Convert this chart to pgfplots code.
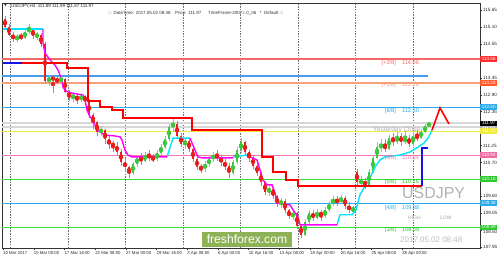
\documentclass[border=0pt]{standalone}
\usepackage{fontspec}
\setmainfont{Liberation Sans}
\newfontfamily\djv{DejaVu Sans}
\usepackage{pgfplots}
\usepackage{pgfplotstable}
\pgfplotsset{compat=1.18}
\newcommand\fs[1]{\fontsize{#1}{#1}\selectfont}
\definecolor{candleup}{RGB}{60,200,60}
\definecolor{candledn}{RGB}{235,30,30}
\definecolor{lred}{RGB}{242,105,105}
\definecolor{bred}{RGB}{255,45,45}
\definecolor{lsal}{RGB}{245,160,120}
\definecolor{bsal}{RGB}{255,90,40}
\definecolor{tblue}{RGB}{70,155,235}
\definecolor{mblue}{RGB}{40,170,235}
\definecolor{lgrey}{RGB}{215,215,215}
\definecolor{lyel}{RGB}{240,235,60}
\definecolor{lpink}{RGB}{240,120,180}
\definecolor{lgreen}{RGB}{50,225,50}
\definecolor{cmag}{RGB}{255,0,255}
\definecolor{ccyan}{RGB}{0,230,255}
\definecolor{dblue}{RGB}{20,20,230}
\definecolor{ffx}{RGB}{141,178,85}

\pgfplotstableread{
x o h l c
17 114.70 114.88 114.60 114.80
25 114.75 115.02 114.70 114.95
29 114.95 115.20 114.88 115.05
37 114.80 114.95 114.68 114.85
49 113.35 113.55 113.20 113.45
61 113.35 113.52 113.28 113.40
73 112.80 113.00 112.68 112.85
81 112.75 112.95 112.68 112.85
101 111.70 111.90 111.55 111.75
133 110.35 110.72 110.30 110.65
137 110.65 110.95 110.55 110.85
145 110.75 111.05 110.70 110.95
157 110.80 111.10 110.75 111.00
161 111.00 111.30 110.95 111.20
165 111.20 111.55 111.15 111.45
169 111.45 111.95 111.40 111.85
173 111.85 112.15 111.70 111.95
185 111.30 111.50 111.15 111.40
205 110.50 110.75 110.40 110.65
209 110.65 110.90 110.55 110.80
213 110.80 111.05 110.70 110.95
233 110.35 110.78 110.30 110.70
237 110.70 111.20 110.65 111.10
241 111.10 111.50 111.00 111.35
269 109.75 109.95 109.62 109.85
281 109.35 109.55 109.22 109.45
293 108.95 109.15 108.82 109.05
305 108.35 108.85 108.30 108.75
309 108.75 109.15 108.70 109.05
317 108.90 109.20 108.85 109.10
325 108.95 109.25 108.90 109.15
329 109.15 109.45 109.10 109.35
333 109.35 109.60 109.30 109.50
341 109.40 109.65 109.35 109.55
353 109.15 109.30 109.05 109.20
361 110.05 110.25 109.90 110.10
369 109.95 110.50 109.90 110.40
373 110.40 110.95 110.35 110.85
377 110.85 111.35 110.80 111.20
381 111.20 111.45 111.05 111.25
389 111.15 111.60 111.10 111.50
397 111.35 111.70 111.30 111.55
405 111.35 111.72 111.30 111.50
413 111.30 111.70 111.25 111.55
421 111.50 111.80 111.45 111.70
425 111.70 111.95 111.65 111.88
429 111.88 111.99 111.87 111.97
}\upc

\pgfplotstableread{
x o h l c
5 115.35 115.45 115.05 115.10
9 115.10 115.20 114.80 114.85
13 114.85 114.95 114.62 114.70
21 114.80 114.90 114.68 114.75
33 115.05 115.08 114.72 114.80
41 114.85 114.90 114.45 114.55
45 114.55 114.60 113.25 113.35
53 113.45 113.55 112.95 113.40
57 113.40 113.48 113.25 113.35
65 113.40 113.45 112.95 113.00
69 113.00 113.05 112.70 112.80
77 112.85 112.95 112.60 112.75
85 112.85 112.90 112.60 112.70
89 112.70 112.75 112.15 112.25
93 112.25 112.30 111.80 112.00
97 112.00 112.05 111.55 111.70
105 111.75 111.80 111.30 111.45
109 111.45 111.55 111.15 111.30
113 111.30 111.40 111.05 111.25
117 111.25 111.35 110.95 111.05
121 111.05 111.15 110.60 110.70
125 110.70 110.85 110.40 110.55
129 110.55 110.60 110.20 110.35
141 110.85 111.00 110.62 110.75
149 110.95 111.10 110.75 110.85
153 110.85 110.98 110.70 110.80
177 111.95 112.05 111.45 111.55
181 111.55 111.65 111.20 111.30
189 111.40 111.45 111.05 111.15
193 111.15 111.20 110.70 110.80
197 110.80 110.90 110.45 110.55
201 110.55 110.65 110.35 110.50
217 110.95 111.10 110.75 110.85
221 110.85 110.95 110.60 110.70
225 110.70 110.80 110.45 110.60
229 110.60 110.68 110.20 110.35
245 111.35 111.40 110.95 111.05
249 111.05 111.10 110.70 110.85
253 110.85 110.95 110.50 110.60
257 110.60 110.70 110.25 110.35
261 110.35 110.40 109.95 110.05
265 110.05 110.10 109.65 109.75
273 109.85 109.90 109.50 109.60
277 109.60 109.65 109.25 109.35
285 109.45 109.50 109.05 109.15
289 109.15 109.20 108.85 108.95
297 109.05 109.10 108.55 108.65
301 108.65 108.70 108.25 108.35
313 109.05 109.15 108.80 108.90
321 109.10 109.15 108.80 108.95
337 109.50 109.60 109.30 109.40
345 109.55 109.60 109.20 109.30
349 109.30 109.40 109.05 109.15
357 110.40 110.50 109.95 110.05
365 110.10 110.20 109.85 109.95
385 111.25 111.45 111.05 111.15
393 111.50 111.65 111.25 111.35
401 111.55 111.65 111.25 111.35
409 111.50 111.60 111.20 111.30
417 111.55 111.75 111.40 111.50
}\dnc

\begin{document}
\begin{tikzpicture}[x=1bp,y=1bp]
\useasboundingbox (0,0) rectangle (500,260);
\fill[white] (0,0) rectangle (500,260);
\begin{axis}[
  at={(2bp,12bp)}, anchor=south west, scale only axis,
  width=478bp, height=245bp,
  xmin=2, xmax=480, ymin=107.92, ymax=115.88,
  clip=false,
  axis line style={black!80, line width=0.6bp},
  tick align=outside, major tick length=2bp,
  tick style={black!80, line width=0.4bp},
  xtick pos=bottom, ytick pos=right, yticklabel pos=right,
  xtick={3,33.7,64.4,95.1,125.8,156.5,187.2,217.9,248.6,279.3,310,340.7,371.4,402.1},
  xticklabels={10 Mar 2017,15 Mar 00:00,17 Mar 16:00,22 Mar 08:00,27 Mar 00:00,29 Mar 16:00,3 Apr 08:00,6 Apr 00:00,10 Apr 16:00,13 Apr 08:00,18 Apr 00:00,20 Apr 16:00,25 Apr 08:00,28 Apr 00:00},
  xticklabel style={anchor=north west, font=\fs{4.3}, inner sep=0.5bp, xshift=-0.5bp, yshift=-0.5bp, text=black!85},
  ytick={107.95,109.05,109.60,110.70,111.25,112.35,112.90,113.45,114.55,115.10,115.65},
  yticklabel style={anchor=west, font=\fs{4.6}, inner sep=0.5bp, xshift=0.5bp, text=black!85,
    /pgf/number format/fixed, /pgf/number format/fixed zerofill,
    /pgf/number format/precision=2, /pgf/number format/assume math mode=true},
  extra y ticks={108.50},
  extra y tick style={yticklabel style={yshift=-1.8bp}},
  extra x ticks={10.5,68,125.5,183,240.5,298,355.5,413},
  extra x tick labels={},
  extra x tick style={grid=major, major tick length=0pt,
    major grid style={black!55, dash pattern=on 1.5bp off 1.2bp, line width=0.5bp}},
]
% level lines
\addplot[lred, line width=1.4bp] coordinates {(2,114.06) (480,114.06)};
\addplot[tblue, line width=1.8bp] coordinates {(2,113.51) (428,113.51)};
\addplot[lsal, line width=1.4bp] coordinates {(2,113.28) (480,113.28)};
\addplot[mblue, line width=0.9bp] coordinates {(2,112.50) (480,112.50)};
\addplot[lgrey, line width=1.2bp] coordinates {(2,111.98) (480,111.98)};
\addplot[lgrey, line width=1.2bp] coordinates {(2,111.85) (480,111.85)};
\addplot[lyel, line width=0.9bp] coordinates {(2,111.72) (480,111.72)};
\addplot[lpink, line width=0.9bp] coordinates {(2,110.94) (480,110.94)};
\addplot[lgreen, line width=0.9bp] coordinates {(2,110.16) (480,110.16)};
\addplot[mblue, line width=0.9bp] coordinates {(2,109.38) (480,109.38)};
\addplot[lgreen, line width=0.9bp] coordinates {(2,108.59) (480,108.59)};
% candles: wicks
\addplot[candleup, only marks, mark=none, error bars/.cd, y dir=both, y explicit, error mark=none,
  error bar style={draw=candleup!70, line width=0.6bp}]
  table[x=x, y expr={(\thisrow{h}+\thisrow{l})/2}, y error expr={(\thisrow{h}-\thisrow{l})/2}] {\upc};
\addplot[candledn, only marks, mark=none, error bars/.cd, y dir=both, y explicit, error mark=none,
  error bar style={draw=candledn!65, line width=0.6bp}]
  table[x=x, y expr={(\thisrow{h}+\thisrow{l})/2}, y error expr={(\thisrow{h}-\thisrow{l})/2}] {\dnc};
% candles: bodies
\addplot[candleup, only marks, mark=none, error bars/.cd, y dir=both, y explicit, error mark=none,
  error bar style={draw=candleup, line width=2.3bp}]
  table[x=x, y expr={(\thisrow{o}+\thisrow{c})/2}, y error expr={abs(\thisrow{c}-\thisrow{o})/2}] {\upc};
\addplot[candledn, only marks, mark=none, error bars/.cd, y dir=both, y explicit, error mark=none,
  error bar style={draw=candledn, line width=2.3bp}]
  table[x=x, y expr={(\thisrow{o}+\thisrow{c})/2}, y error expr={abs(\thisrow{c}-\thisrow{o})/2}] {\dnc};
% trailing stop lines
\addplot[ccyan, line width=1.4bp] coordinates {(3,115.03) (43,115.03)};
\addplot[ccyan, line width=1.4bp] coordinates {(167,110.88) (173,111.49) (190,111.49)};
\addplot[ccyan, line width=1.4bp] coordinates {(233,110.88) (247,110.94)};
\addplot[ccyan, line width=1.4bp] coordinates {(337,108.67) (340,109.00) (352,109.00) (356,109.16) (360,109.65) (365,109.94) (370,110.20) (375,110.55) (380,110.78) (385,110.88) (400,110.94) (410,111.04) (418,111.20) (424,111.33) (428,111.49) (432,111.75)};
\addplot[cmag, line width=1.4bp] coordinates {(43,115.03) (43,114.58) (45,114.25) (50,114.03) (55,113.86) (58,113.70) (62,113.38) (63,113.15) (65,113.05) (68,112.99) (72,112.95) (83,112.89) (85,112.73) (87,112.40) (90,112.18) (93,112.08) (97,111.75) (100,111.69) (105,111.59) (115,111.56) (120,111.53) (122,111.43) (125,111.10) (128,110.94) (132,110.88) (167,110.88)};
\addplot[cmag, line width=1.4bp] coordinates {(190,111.49) (192,111.33) (195,111.10) (198,110.88) (202,110.85) (233,110.85)};
\addplot[cmag, line width=1.4bp] coordinates {(247,110.94) (250,110.88) (257,110.78) (260,110.46) (263,110.13) (267,109.97) (272,109.97) (275,109.71) (277,109.38) (290,109.32) (295,109.06) (298,108.93) (300,108.67) (337,108.67)};
% red step line
\addplot[dblue, line width=1.8bp] coordinates {(3,113.93) (22,113.93)};
\addplot[red, line width=1.8bp] coordinates {(22,113.93) (67,113.93) (67,113.77) (88,113.77) (88,112.70) (100,112.70) (100,112.50) (112,112.50) (112,112.40) (123,112.40) (123,112.14) (192,112.14) (192,111.76) (262,111.76) (262,110.88) (273,110.88) (273,110.39) (286,110.39) (286,110.13) (298,110.13) (298,109.94) (422,109.94)};
\addplot[dblue, line width=1.8bp] coordinates {(422,109.94) (422,111.17) (428,111.17)};
\addplot[red, line width=1.6bp] coordinates {(432,111.75) (440,112.47) (449,111.95)};
% right colored price labels
\tikzset{plab/.style={anchor=west, inner sep=0.6bp, font=\fs{4.6}, text=white, minimum width=17bp, minimum height=5.2bp}}
\node[plab, fill=bred] at (axis cs:480,114.06) {114.06};
\node[plab, fill=bsal] at (axis cs:480,113.28) {113.28};
\node[plab, fill=mblue] at (axis cs:480,112.50) {112.50};
\node[plab, fill=black!30] at (axis cs:480,111.84) {111.84};
\node[plab, fill=black] at (axis cs:480,111.97) {111.97};
\node[plab, fill=lyel] at (axis cs:480,111.72) {111.72};
\node[plab, fill=lpink!90!red] at (axis cs:480,110.94) {110.94};
\node[plab, fill=lgreen!90!black] at (axis cs:480,110.16) {110.16};
\node[plab, fill=mblue] at (axis cs:480,109.38) {109.38};
\node[plab, fill=lgreen!90!black] at (axis cs:480,108.59) {108.59};
\end{axis}
% header texts
\node[anchor=west, inner sep=0, font=\djv\fs{3.5}, text=black!80] at (4,254) {▼};
\node[anchor=west, inner sep=0, font=\fs{4.5}, text=black!85] at (11,254) {USDJPY,H4\ \ 111.89 111.99 111.87 111.97};
\node[anchor=west, inner sep=0, font=\fs{4.5}, text=black!80] at (108,247) {::: DateTime: 2017.05.02 08:48};
\node[anchor=west, inner sep=0, font=\fs{4.5}, text=black!80] at (175,247) {Price: 111.97};
\node[anchor=west, inner sep=0, font=\fs{4.5}, text=black!80] at (208,247) {TimeFrame-2007=.0\_06\ \ \ *\ \ Default :::};
% level texts
\tikzset{lt/.style={inner sep=0, font=\fs{5.6}}}
\node[lt, anchor=east, text=lred] at (396,197) {[+2/8]};
\node[lt, anchor=west, text=lred] at (402,197) {114.06};
\node[lt, anchor=east, text=lsal] at (396,175) {[+1/8]};
\node[lt, anchor=west, text=lsal] at (402,175) {113.28};
\node[lt, anchor=east, text=mblue] at (396,149) {[8/8]};
\node[lt, anchor=west, text=mblue] at (402,149) {112.50};
\node[lt, anchor=west, font=\fs{6.5}, text=black!30] at (373,130) {Yesterday Close};
\node[lt, anchor=east, text=lpink] at (396,102) {[6/8]};
\node[lt, anchor=west, text=lpink] at (402,102) {110.94};
\node[lt, anchor=east, text=lgreen!85!black] at (396,78) {[5/8]};
\node[lt, anchor=west, text=lgreen!85!black] at (402,78) {110.16};
\node[lt, anchor=east, text=mblue] at (396,52) {[4/8]};
\node[lt, anchor=west, text=mblue] at (402,52) {109.38};
\node[lt, anchor=east, text=lgreen!85!black] at (396,30) {[3/8]};
\node[lt, anchor=west, text=lgreen!85!black] at (402,30) {108.59};
% watermark
\node[anchor=west, inner sep=0, font=\fs{16}, text=black!30] at (402,67) {USDJPY};
\node[anchor=west, inner sep=0, font=\fs{5}, text=black!35] at (408,42) {HIGH};
\node[anchor=west, inner sep=0, font=\fs{5}, text=black!35] at (440,42) {LOW};
\node[anchor=west, inner sep=0, font=\fs{8}, text=black!25] at (400,20) {2017.05.02 08:48};
\fill[ffx] (202,13) rectangle (292,28.5);
\node[inner sep=0, font=\fs{12.2}, text=white] at (247,20.5) {freshforex.com};
\end{tikzpicture}
\end{document}
